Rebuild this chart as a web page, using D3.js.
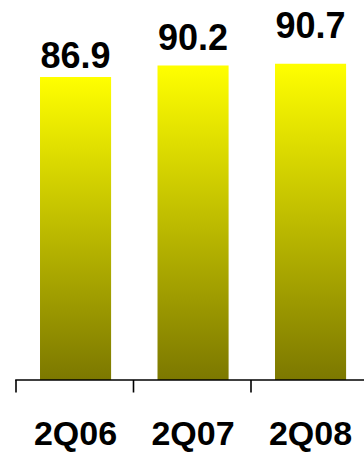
<!DOCTYPE html>
<html><head><meta charset="utf-8">
<script src="https://cdn.jsdelivr.net/npm/d3@7"></script>
<style>body{margin:0;background:#fff}svg{display:block}</style>
</head><body>
<script>
const categories = ["2Q06", "2Q07", "2Q08"];
const values = [86.9, 90.2, 90.7];
const valueLabels = ["86.9", "90.2", "90.7"];
const labelGaps = [9, 15, 26];

const W = 364, H = 452;
const svg = d3.select("body").append("svg").attr("width", W).attr("height", H);

const x = d3.scaleBand().domain(categories).range([16, 368.5]).paddingInner(0.395).paddingOuter(0.1975);
const baseY = 380;
const y = d3.scaleLinear().domain([0, 100]).range([baseY, baseY - 303 / 86.9 * 100]);

const defs = svg.append("defs");
const grad = defs.append("linearGradient").attr("id", "g").attr("x1", 0).attr("y1", 0).attr("x2", 0).attr("y2", 1);
grad.append("stop").attr("offset", "0%").attr("stop-color", "#ffff00");
grad.append("stop").attr("offset", "100%").attr("stop-color", "#7c7800");

svg.selectAll("rect.bar").data(values).join("rect")
  .attr("class", "bar")
  .attr("x", (d, i) => x(categories[i]) + 0.8)
  .attr("width", x.bandwidth())
  .attr("y", d => y(d))
  .attr("height", d => baseY - y(d))
  .attr("fill", "url(#g)");

svg.selectAll("text.val").data(values).join("text")
  .attr("class", "val")
  .attr("x", (d, i) => x(categories[i]) + x.bandwidth() / 2 + 0.8)
  .attr("y", (d, i) => y(d) - labelGaps[i])
  .attr("text-anchor", "middle")
  .attr("font-family", "Liberation Sans, Arial, sans-serif")
  .attr("font-weight", "bold")
  .attr("font-size", 36)
  .attr("fill", "#000")
  .text((d, i) => valueLabels[i]);

// axis
const ax = svg.append("g");
const step = x.step();
const x0 = x.range()[0];
ax.append("line").attr("x1", x0 - 0.8).attr("x2", W).attr("y1", baseY).attr("y2", baseY)
  .attr("stroke", "#000").attr("stroke-width", 1.6);
const tickXs = d3.range(categories.length + 1).map(i => x0 + i * step);
ax.selectAll("line.tick").data(tickXs).join("line")
  .attr("class", "tick")
  .attr("x1", d => d).attr("x2", d => d)
  .attr("y1", baseY).attr("y2", baseY + 12.5)
  .attr("stroke", "#000").attr("stroke-width", 1.6);

svg.selectAll("text.cat").data(categories).join("text")
  .attr("class", "cat")
  .attr("x", d => x(d) + x.bandwidth() / 2 + 0.8)
  .attr("y", 445)
  .attr("text-anchor", "middle")
  .attr("font-family", "Liberation Sans, Arial, sans-serif")
  .attr("font-weight", "bold")
  .attr("font-size", 34)
  .attr("fill", "#000")
  .text(d => d);
</script>
</body></html>
